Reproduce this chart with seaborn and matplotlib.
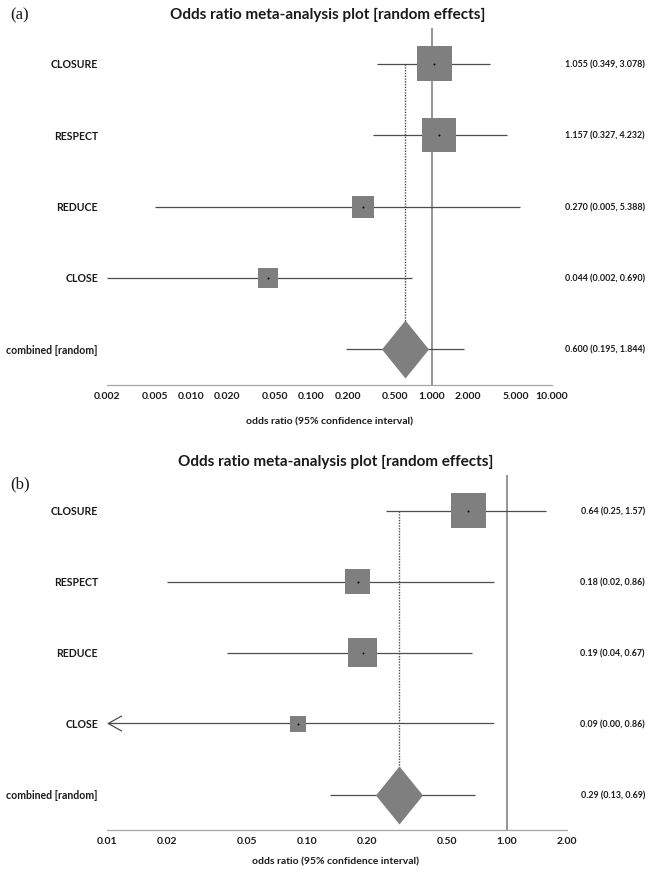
import numpy as np
import pandas as pd
import matplotlib
matplotlib.use("Agg")
import matplotlib.pyplot as plt
import matplotlib.transforms as mtransforms
from matplotlib.ticker import FixedLocator, FixedFormatter
import seaborn as sns

# study rows (top to bottom), last row is the pooled estimate
studies = ["CLOSURE", "RESPECT", "REDUCE", "CLOSE", "combined [random]"]

# panel (a)
or_a = [1.055, 1.157, 0.270, 0.044, 0.600]
lo_a = [0.349, 0.327, 0.005, 0.002, 0.195]
hi_a = [3.078, 4.232, 5.388, 0.690, 1.844]
box_a = [35, 34, 22, 20]          # relative box size (weight)
ticks_a = [0.002, 0.005, 0.01, 0.02, 0.05, 0.1, 0.2, 0.5, 1, 2, 5, 10]

# panel (b)
or_b = [0.64, 0.18, 0.19, 0.09, 0.29]
lo_b = [0.25, 0.02, 0.04, 0.00, 0.13]
hi_b = [1.57, 0.86, 0.67, 0.86, 0.69]
box_b = [35, 25, 29, 16]
ticks_b = [0.01, 0.02, 0.05, 0.10, 0.20, 0.50, 1.00, 2.00]

title = "Odds ratio meta-analysis plot [random effects]"
xlab = "odds ratio (95% confidence interval)"

sns.set_theme(style="white")
plt.rcParams["font.family"] = ["Lato", "DejaVu Sans"]

BOX = "#7f7f7f"
LINE = "#4d4d4d"
REF = "#8c8c8c"
TXT = "#1a1a1a"

diamond = [(0, 1), (0.81, 0), (0, -1), (-0.81, 0), (0, 1)]


def forest(ax, fig, est, lo, hi, box, ticks, fmt):
    df = pd.DataFrame({"study": studies, "est": est, "lo": lo, "hi": hi})
    df["row"] = np.arange(len(df))
    xmin, xmax = ticks[0], ticks[-1]
    ax.set_xscale("log")
    ax.set_xlim(xmin, xmax)
    ax.set_ylim(len(df) - 0.5, -0.5)

    ax.axvline(1, color=REF, lw=1.3, zorder=1)
    pooled = df.iloc[-1]
    ax.vlines(pooled["est"], 0, pooled["row"], color=LINE, lw=1.0,
              linestyles=(0, (1, 1)), zorder=1)

    for _, r in df.iterrows():
        if r["lo"] < xmin:
            # lower limit off the scale: draw an open arrow at the left edge
            ax.annotate("", xy=(xmin, r["row"]), xytext=(r["hi"], r["row"]),
                        arrowprops=dict(arrowstyle="->,head_length=0.8,head_width=0.45",
                                        color=LINE, lw=0.9, shrinkA=0, shrinkB=0),
                        zorder=2)
        else:
            ax.hlines(r["row"], r["lo"], r["hi"], color=LINE, lw=0.9, zorder=2)

    st = df.iloc[:-1]
    sizes = (np.array(box) * 0.72) ** 2
    sns.scatterplot(x=st["est"], y=st["row"], marker="s", s=sizes, color=BOX,
                    linewidth=0, ax=ax, legend=False, zorder=3)
    sns.scatterplot(x=[pooled["est"]], y=[pooled["row"]], marker=diamond,
                    s=(58 * 0.72) ** 2, color=BOX, linewidth=0, ax=ax,
                    legend=False, zorder=3)
    ax.scatter(st["est"], st["row"], s=2, color="black", zorder=4, linewidths=0)

    ax.xaxis.set_major_locator(FixedLocator(ticks))
    ax.xaxis.set_major_formatter(FixedFormatter([fmt.format(t) for t in ticks]))
    ax.xaxis.set_minor_locator(FixedLocator([]))
    ax.tick_params(axis="x", direction="in", length=3, width=0.8, color="#999999",
                   labelsize=7.5, labelcolor=TXT, pad=4)
    for lab in ax.get_xticklabels():
        lab.set_fontweight("bold")
    ax.set_yticks([])
    for s in ["left", "top", "right"]:
        ax.spines[s].set_visible(False)
    ax.spines["bottom"].set_color("#a6a6a6")
    ax.spines["bottom"].set_linewidth(0.9)
    ax.set_xlabel(xlab, fontsize=7.5, fontweight="bold", color=TXT)
    ax.set_ylabel("")

    tr = mtransforms.blended_transform_factory(fig.transFigure, ax.transData)
    for _, r in df.iterrows():
        ax.text(98 / 651, r["row"], r["study"], transform=tr, ha="right", va="center",
                fontsize=7.6, fontweight="bold", color=TXT)
        txt = f"{fmt.format(r['est'])} ({fmt.format(r['lo'])}, {fmt.format(r['hi'])})"
        ax.text(645 / 651, r["row"], txt, transform=tr, ha="right", va="center",
                fontsize=6.4, fontweight="bold", color=TXT)


fig = plt.figure(figsize=(6.51, 8.78), dpi=100)
W, H = 651, 878
ax_a = fig.add_axes([107 / W, 1 - 386 / H, 445 / W, 357 / H])
ax_b = fig.add_axes([107 / W, 1 - 831 / H, 460 / W, 355 / H])

forest(ax_a, fig, or_a, lo_a, hi_a, box_a, ticks_a, "{:.3f}")
forest(ax_b, fig, or_b, lo_b, hi_b, box_b, ticks_b, "{:.2f}")

ax_a.xaxis.set_label_coords((330 - 107) / 445, -(417 - 386) / 357)
ax_b.xaxis.set_label_coords((336 - 107) / 460, -(857 - 831) / 355)

fig.text(328 / W, 1 - 15 / H, title, ha="center", va="center", fontsize=11,
         fontweight="bold", color=TXT)
fig.text(336 / W, 1 - 462 / H, title, ha="center", va="center", fontsize=11,
         fontweight="bold", color=TXT)
fig.text(10 / W, 1 - 15 / H, "(a)", ha="left", va="center", fontsize=12,
         family="Liberation Serif", color=TXT)
fig.text(10 / W, 1 - 484 / H, "(b)", ha="left", va="center", fontsize=12,
         family="Liberation Serif", color=TXT)

fig.savefig("out.png", dpi=100)
